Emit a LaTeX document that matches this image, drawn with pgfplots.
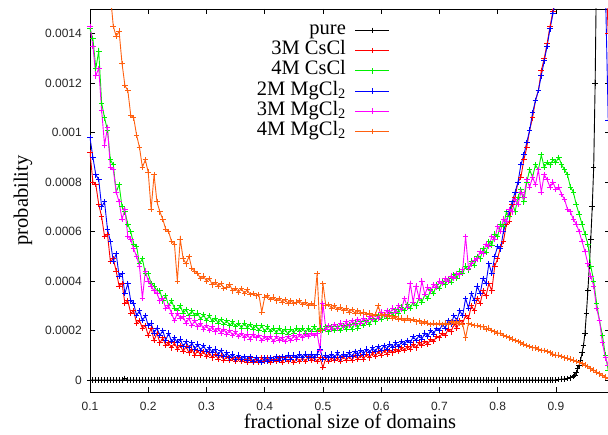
\documentclass[border=0pt]{standalone}
\usepackage{fontspec}
\setmainfont{Liberation Serif}
\newfontfamily\ticksf{Liberation Sans}
\usepackage{pgfplots}
\usepackage{pgfplotstable}
\pgfplotsset{compat=1.18}
\definecolor{cred}{RGB}{255,0,0}
\definecolor{cgreen}{RGB}{0,240,0}
\definecolor{cblue}{RGB}{0,0,255}
\definecolor{cmag}{RGB}{255,0,255}
\definecolor{corange}{RGB}{255,96,16}

% columns: x, 3M CsCl (red), 4M CsCl (green), 2M MgCl2 (blue), 3M MgCl2 (magenta), 4M MgCl2 (orange)
\pgfplotstableread{
x r g b m o
0.100 9.2e-4 14.2e-4 9.8e-4 14.3e-4 25e-4
0.105 8.0e-4 13.8e-4 9.0e-4 13.5e-4 23.5e-4
0.110 7.9e-4 12.6e-4 8.3e-4 12.3e-4 22e-4
0.115 7.1e-4 13.3e-4 8.1e-4 12.6e-4 20.5e-4
0.120 6.6e-4 11.2e-4 7.0e-4 10.9e-4 19.5e-4
0.125 5.8e-4 10.6e-4 7.2e-4 9.5e-4 18e-4
0.130 5.9e-4 10.1e-4 6.1e-4 10.2e-4 17e-4
0.135 4.8e-4 8.9e-4 5.6e-4 8.6e-4 15.6e-4
0.140 4.9e-4 8.7e-4 4.8e-4 8.5e-4 14.3e-4
0.145 4.4e-4 7.6e-4 5.1e-4 7.6e-4 13.9e-4
0.150 3.8e-4 7.9e-4 4.2e-4 7.2e-4 14.1e-4
0.155 3.9e-4 7.0e-4 4.3e-4 6.5e-4 12.8e-4
0.160 3.1e-4 6.8e-4 3.5e-4 6.9e-4 11.9e-4
0.165 3.2e-4 6.3e-4 3.9e-4 5.8e-4 11.7e-4
0.170 2.7e-4 6.0e-4 3.2e-4 5.7e-4 10.7e-4
0.175 2.8e-4 5.5e-4 3.1e-4 5.3e-4 10.6e-4
0.180 2.3e-4 5.4e-4 2.6e-4 5.0e-4 9.9e-4
0.185 2.4e-4 4.7e-4 2.8e-4 4.6e-4 9.4e-4
0.190 2.1e-4 4.9e-4 2.4e-4 3.3e-4 8.6e-4
0.195 2.2e-4 4.3e-4 2.6e-4 4.4e-4 8.9e-4
0.200 1.8e-4 4.3e-4 2.2e-4 4.0e-4 8.4e-4
0.205 2.1e-4 3.9e-4 2.3e-4 3.8e-4 6.9e-4
0.210 1.6e-4 3.8e-4 1.9e-4 3.6e-4 8.3e-4
0.215 1.9e-4 3.6e-4 2.1e-4 3.5e-4 7.2e-4
0.220 1.5e-4 3.6e-4 1.8e-4 3.2e-4 6.8e-4
0.225 1.7e-4 3.2e-4 2.0e-4 3.3e-4 6.5e-4
0.230 1.4e-4 3.4e-4 1.6e-4 2.9e-4 6.1e-4
0.235 1.5e-4 3.0e-4 1.9e-4 3.0e-4 6.0e-4
0.240 1.3e-4 3.2e-4 1.55e-4 2.7e-4 5.6e-4
0.245 1.5e-4 2.9e-4 1.7e-4 2.4e-4 5.5e-4
0.250 1.25e-4 2.8e-4 1.5e-4 2.7e-4 4.0e-4
0.255 1.4e-4 3.0e-4 1.65e-4 2.5e-4 5.7e-4
0.260 1.15e-4 2.7e-4 1.35e-4 2.55e-4 4.9e-4
0.265 1.35e-4 2.85e-4 1.55e-4 2.3e-4 4.7e-4
0.270 1.1e-4 2.6e-4 1.3e-4 2.5e-4 5.0e-4
0.275 1.25e-4 2.8e-4 1.5e-4 2.2e-4 4.5e-4
0.280 1.0e-4 2.6e-4 1.25e-4 2.4e-4 4.4e-4
0.285 1.2e-4 2.7e-4 1.45e-4 2.15e-4 4.3e-4
0.290 1.0e-4 2.45e-4 1.2e-4 2.3e-4 4.1e-4
0.295 1.15e-4 2.65e-4 1.4e-4 2.05e-4 4.2e-4
0.300 0.95e-4 2.4e-4 1.15e-4 2.2e-4 4.0e-4
0.305 1.1e-4 2.6e-4 1.3e-4 2.0e-4 4.1e-4
0.310 0.9e-4 2.35e-4 1.1e-4 2.15e-4 3.85e-4
0.315 1.05e-4 2.5e-4 1.25e-4 1.95e-4 3.95e-4
0.320 0.85e-4 2.3e-4 1.0e-4 2.1e-4 3.8e-4
0.325 1.0e-4 2.45e-4 1.2e-4 1.9e-4 3.9e-4
0.330 0.8e-4 2.25e-4 0.95e-4 2.05e-4 3.7e-4
0.335 0.95e-4 2.4e-4 1.1e-4 1.85e-4 3.75e-4
0.340 0.8e-4 2.2e-4 0.9e-4 2.0e-4 3.85e-4
0.345 0.9e-4 2.35e-4 1.05e-4 1.8e-4 3.6e-4
0.350 0.75e-4 2.15e-4 0.85e-4 1.95e-4 3.7e-4
0.355 0.9e-4 2.3e-4 1.0e-4 1.75e-4 3.55e-4
0.360 0.75e-4 2.1e-4 0.85e-4 1.9e-4 3.7e-4
0.365 0.85e-4 2.3e-4 0.95e-4 1.7e-4 3.5e-4
0.370 0.7e-4 2.1e-4 0.8e-4 1.85e-4 3.65e-4
0.375 0.9e-4 2.25e-4 0.95e-4 1.65e-4 3.45e-4
0.380 0.7e-4 2.05e-4 0.75e-4 1.85e-4 3.5e-4
0.385 0.85e-4 2.2e-4 0.9e-4 1.7e-4 3.4e-4
0.390 0.7e-4 2.0e-4 0.8e-4 1.8e-4 3.45e-4
0.395 0.9e-4 2.2e-4 0.7e-4 1.6e-4 2.75e-4
0.400 0.75e-4 1.95e-4 0.9e-4 1.75e-4 3.35e-4
0.405 0.9e-4 2.15e-4 0.75e-4 1.65e-4 3.4e-4
0.410 0.7e-4 1.95e-4 0.9e-4 1.75e-4 3.25e-4
0.415 0.85e-4 2.1e-4 0.8e-4 1.55e-4 3.35e-4
0.420 0.75e-4 1.9e-4 0.95e-4 1.75e-4 3.2e-4
0.425 0.9e-4 2.1e-4 0.8e-4 1.6e-4 3.3e-4
0.430 0.7e-4 1.9e-4 0.95e-4 1.7e-4 3.15e-4
0.435 0.9e-4 2.05e-4 0.85e-4 1.55e-4 3.25e-4
0.440 0.75e-4 1.85e-4 1.0e-4 1.75e-4 3.1e-4
0.445 0.9e-4 2.05e-4 0.85e-4 1.6e-4 3.2e-4
0.450 0.7e-4 1.9e-4 1.0e-4 1.8e-4 3.1e-4
0.455 0.9e-4 2.1e-4 0.9e-4 1.65e-4 3.15e-4
0.460 0.75e-4 1.95e-4 1.05e-4 1.85e-4 3.2e-4
0.465 0.9e-4 2.1e-4 0.9e-4 1.7e-4 3.05e-4
0.470 0.75e-4 1.9e-4 1.05e-4 1.85e-4 3.15e-4
0.475 0.95e-4 2.1e-4 0.9e-4 1.75e-4 3.0e-4
0.480 0.8e-4 1.95e-4 1.05e-4 1.9e-4 3.1e-4
0.485 0.9e-4 2.15e-4 0.9e-4 1.8e-4 3.0e-4
0.490 0.75e-4 1.95e-4 1.05e-4 1.9e-4 4.3e-4
0.495 0.9e-4 2.1e-4 1.25e-4 1.2e-4 2.0e-4
0.500 0.5e-4 2.0e-4 0.85e-4 3.1e-4 3.9e-4
0.505 0.9e-4 2.15e-4 1.0e-4 2.05e-4 3.0e-4
0.510 0.75e-4 1.95e-4 0.9e-4 2.2e-4 3.05e-4
0.515 0.9e-4 2.15e-4 1.05e-4 2.05e-4 2.9e-4
0.520 0.8e-4 2.0e-4 0.9e-4 2.25e-4 3.0e-4
0.525 0.9e-4 2.15e-4 1.1e-4 2.1e-4 2.85e-4
0.530 0.75e-4 2.0e-4 0.9e-4 2.3e-4 2.95e-4
0.535 0.95e-4 2.2e-4 1.05e-4 2.15e-4 2.8e-4
0.540 0.8e-4 2.05e-4 0.95e-4 2.35e-4 2.9e-4
0.545 0.95e-4 2.25e-4 1.1e-4 2.2e-4 2.75e-4
0.550 0.8e-4 2.05e-4 0.95e-4 2.4e-4 2.85e-4
0.555 1.0e-4 2.3e-4 1.15e-4 2.25e-4 2.7e-4
0.560 0.85e-4 2.1e-4 1.0e-4 2.45e-4 2.8e-4
0.565 1.0e-4 2.35e-4 1.2e-4 2.3e-4 2.7e-4
0.570 0.85e-4 2.2e-4 1.05e-4 2.5e-4 2.75e-4
0.575 1.05e-4 2.4e-4 1.25e-4 2.35e-4 2.65e-4
0.580 0.9e-4 2.25e-4 1.1e-4 2.55e-4 2.7e-4
0.585 1.1e-4 2.5e-4 1.3e-4 2.45e-4 2.6e-4
0.590 0.95e-4 2.35e-4 1.15e-4 2.65e-4 2.65e-4
0.595 1.15e-4 2.6e-4 1.35e-4 2.5e-4 3.0e-4
0.600 1.0e-4 2.45e-4 1.2e-4 2.75e-4 2.6e-4
0.605 1.2e-4 2.65e-4 1.4e-4 2.6e-4 2.65e-4
0.610 1.05e-4 2.5e-4 1.25e-4 2.8e-4 2.55e-4
0.615 1.2e-4 2.75e-4 1.45e-4 2.7e-4 2.6e-4
0.620 1.1e-4 2.6e-4 1.3e-4 2.9e-4 2.5e-4
0.625 1.25e-4 2.85e-4 1.5e-4 2.75e-4 2.55e-4
0.630 1.15e-4 2.7e-4 1.35e-4 3.0e-4 2.45e-4
0.635 1.3e-4 2.95e-4 1.55e-4 2.85e-4 2.5e-4
0.640 1.2e-4 2.8e-4 1.45e-4 3.3e-4 2.4e-4
0.645 1.35e-4 3.05e-4 1.6e-4 2.95e-4 2.5e-4
0.650 1.25e-4 2.9e-4 1.5e-4 3.9e-4 2.4e-4
0.655 1.45e-4 3.15e-4 1.75e-4 3.15e-4 2.45e-4
0.660 1.3e-4 3.0e-4 1.6e-4 3.8e-4 2.35e-4
0.665 1.5e-4 3.3e-4 1.8e-4 3.3e-4 2.4e-4
0.670 1.4e-4 3.15e-4 1.65e-4 4.0e-4 2.3e-4
0.675 1.55e-4 3.45e-4 1.9e-4 3.45e-4 2.35e-4
0.680 1.45e-4 3.3e-4 1.75e-4 3.75e-4 2.3e-4
0.685 1.65e-4 3.65e-4 2.0e-4 3.6e-4 2.25e-4
0.690 1.55e-4 3.5e-4 1.85e-4 3.85e-4 2.3e-4
0.695 1.75e-4 3.85e-4 2.1e-4 3.75e-4 2.25e-4
0.700 1.7e-4 3.7e-4 2.0e-4 4.0e-4 2.3e-4
0.705 1.9e-4 4.0e-4 2.25e-4 3.9e-4 2.25e-4
0.710 1.8e-4 3.85e-4 2.1e-4 4.1e-4 2.3e-4
0.715 2.05e-4 4.1e-4 2.4e-4 4.0e-4 2.25e-4
0.720 1.95e-4 3.95e-4 2.25e-4 4.2e-4 2.35e-4
0.725 2.25e-4 4.25e-4 2.6e-4 4.1e-4 2.3e-4
0.730 2.1e-4 4.1e-4 2.4e-4 4.3e-4 2.35e-4
0.735 2.4e-4 4.4e-4 2.8e-4 4.25e-4 2.3e-4
0.740 2.3e-4 4.3e-4 2.6e-4 4.45e-4 2.25e-4
0.745 2.6e-4 4.6e-4 3.3e-4 5.8e-4 1.7e-4
0.750 2.5e-4 4.45e-4 2.9e-4 4.5e-4 2.3e-4
0.755 3.0e-4 4.8e-4 3.5e-4 4.7e-4 2.25e-4
0.760 2.8e-4 4.65e-4 3.2e-4 4.85e-4 2.2e-4
0.765 3.3e-4 5.0e-4 3.8e-4 4.9e-4 2.2e-4
0.770 3.1e-4 4.9e-4 3.5e-4 5.2e-4 2.15e-4
0.775 3.6e-4 5.3e-4 4.1e-4 5.1e-4 2.15e-4
0.780 3.4e-4 5.15e-4 3.9e-4 5.5e-4 2.05e-4
0.785 3.9e-4 5.6e-4 4.7e-4 5.4e-4 2.1e-4
0.790 3.6e-4 5.45e-4 4.3e-4 5.8e-4 2.0e-4
0.795 4.6e-4 5.9e-4 5.0e-4 5.7e-4 1.95e-4
0.800 4.9e-4 5.8e-4 5.4e-4 6.2e-4 1.9e-4
0.805 5.4e-4 6.3e-4 5.3e-4 6.0e-4 1.9e-4
0.810 5.6e-4 6.2e-4 6.0e-4 6.5e-4 1.8e-4
0.815 6.3e-4 6.8e-4 6.4e-4 6.4e-4 1.75e-4
0.820 6.4e-4 6.6e-4 6.8e-4 6.9e-4 1.7e-4
0.825 7.1e-4 7.2e-4 7.2e-4 6.8e-4 1.65e-4
0.830 7.4e-4 6.8e-4 7.6e-4 7.3e-4 1.6e-4
0.835 8.0e-4 7.4e-4 8.0e-4 7.1e-4 1.55e-4
0.840 8.2e-4 7.7e-4 8.7e-4 7.6e-4 1.5e-4
0.845 8.9e-4 7.2e-4 9.1e-4 7.4e-4 1.45e-4
0.850 9.4e-4 8.0e-4 9.6e-4 8.1e-4 1.4e-4
0.855 10.1e-4 8.5e-4 10.1e-4 7.8e-4 1.35e-4
0.860 10.6e-4 8.2e-4 10.8e-4 8.2e-4 1.3e-4
0.865 11.3e-4 8.7e-4 11.3e-4 7.9e-4 1.3e-4
0.870 11.7e-4 8.5e-4 11.7e-4 8.5e-4 1.25e-4
0.875 12.5e-4 9.1e-4 12.3e-4 7.6e-4 1.2e-4
0.880 13.0e-4 8.6e-4 12.9e-4 8.3e-4 1.2e-4
0.885 13.6e-4 8.8e-4 13.5e-4 8.1e-4 1.15e-4
0.890 14.3e-4 8.7e-4 14.2e-4 7.8e-4 1.1e-4
0.895 14.9e-4 8.9e-4 14.8e-4 8.0e-4 1.05e-4
0.900 15.6e-4 8.8e-4 15.5e-4 7.7e-4 1.0e-4
0.905 16.3e-4 9.0e-4 16.2e-4 7.8e-4 1.0e-4
0.910 17.0e-4 8.7e-4 16.9e-4 7.5e-4 0.95e-4
0.915 17.8e-4 8.5e-4 17.6e-4 7.3e-4 0.9e-4
0.920 18.5e-4 8.3e-4 18.3e-4 6.9e-4 0.88e-4
0.925 19.2e-4 7.8e-4 19.0e-4 6.8e-4 0.85e-4
0.930 20.0e-4 7.6e-4 19.8e-4 6.5e-4 0.8e-4
0.935 20.5e-4 7.1e-4 20.3e-4 6.3e-4 0.75e-4
0.940 21e-4 6.7e-4 21e-4 6.0e-4 0.7e-4
0.945 21e-4 6.3e-4 21e-4 5.6e-4 0.65e-4
0.950 21e-4 5.9e-4 21e-4 5.2e-4 0.6e-4
0.955 21e-4 5.5e-4 21e-4 4.7e-4 0.55e-4
0.960 21e-4 4.6e-4 21e-4 4.2e-4 0.45e-4
0.965 21e-4 4.0e-4 21e-4 3.8e-4 0.4e-4
0.970 21e-4 3.1e-4 21e-4 2.9e-4 0.32e-4
0.975 20e-4 2.4e-4 20e-4 2.4e-4 0.25e-4
0.980 19e-4 1.8e-4 19e-4 1.5e-4 0.18e-4
0.985 17e-4 1.0e-4 16e-4 0.9e-4 0.12e-4
0.990 14e-4 0.4e-4 10.5e-4 0.6e-4 0.08e-4
}\datatab

\begin{document}
\begin{tikzpicture}
\begin{axis}[
  scale only axis, width=520pt, height=383pt,
  xmin=0.1, xmax=0.993, ymin=-0.0000486, ymax=0.0015,
  axis line style={black, line width=0.8pt},
  tick align=inside, major tick length=5pt,
  xtick pos=both, ytick pos=both,
  xticklabel pos=left, yticklabel pos=left,
  tick style={black, line width=0.6pt},
  xtick={0.1,0.2,0.3,0.4,0.5,0.6,0.7,0.8,0.9},
  xticklabels={0.1,0.2,0.3,0.4,0.5,0.6,0.7,0.8,0.9},
  ytick={0,0.0002,0.0004,0.0006,0.0008,0.001,0.0012,0.0014},
  yticklabels={0,0.0002,0.0004,0.0006,0.0008,0.001,0.0012,0.0014},
  /pgf/number format/assume math mode=true,
  ticklabel style={font=\ticksf\fontsize{12}{12}\selectfont, text=black!85},
  xticklabel style={anchor=center, inner sep=0pt, yshift=-14pt},
  yticklabel style={anchor=east, inner sep=0pt, xshift=-8pt},
  xlabel={fractional size of domains},
  ylabel={probability},
  label style={font=\fontsize{20.5}{20.5}\selectfont},
  xlabel style={at={(axis description cs:0.5,-0.0757)}, anchor=center},
  ylabel style={at={(axis description cs:-0.129,0.5)}, anchor=center},
  legend plot pos=right,
  legend cell align=right,
  legend image code/.code={\draw[mark repeat=2,mark phase=2,#1] plot coordinates {(0pt,0pt) (17pt,0pt) (34pt,0pt)};},
  legend style={draw=none, fill=none, at={(axis description cs:0.5827,0.976)}, anchor=north east,
    font=\fontsize{20.5}{20.5}\selectfont, row sep=0pt, column sep=9pt,
    nodes={inner sep=0pt, text height=14.2pt, text depth=6pt}},
  every axis plot/.append style={line width=0.9pt, mark=+, mark size=2.8pt, mark options={solid}},
  clip=true,
]
\addplot[black] coordinates {
(0.100,0) (0.105,0) (0.110,0) (0.115,0) (0.120,0) (0.125,0) (0.130,0) (0.135,0) (0.140,0) (0.145,0)
(0.150,0) (0.155,0) (0.160,0.000006) (0.165,0) (0.170,0) (0.175,0) (0.180,0) (0.185,0) (0.190,0) (0.195,0)
(0.200,0) (0.205,0) (0.210,0) (0.215,0) (0.220,0) (0.225,0) (0.230,0) (0.235,0) (0.240,0) (0.245,0)
(0.250,0) (0.255,0) (0.260,0) (0.265,0) (0.270,0) (0.275,0) (0.280,0) (0.285,0) (0.290,0) (0.295,0)
(0.300,0) (0.305,0) (0.310,0) (0.315,0) (0.320,0) (0.325,0) (0.330,0) (0.335,0) (0.340,0) (0.345,0)
(0.350,0) (0.355,0) (0.360,0) (0.365,0) (0.370,0) (0.375,0) (0.380,0) (0.385,0) (0.390,0) (0.395,0)
(0.400,0) (0.405,0) (0.410,0) (0.415,0) (0.420,0) (0.425,0) (0.430,0) (0.435,0) (0.440,0) (0.445,0)
(0.450,0) (0.455,0) (0.460,0) (0.465,0) (0.470,0) (0.475,0) (0.480,0) (0.485,0) (0.490,0) (0.495,0)
(0.500,0) (0.505,0) (0.510,0) (0.515,0) (0.520,0) (0.525,0) (0.530,0) (0.535,0) (0.540,0) (0.545,0)
(0.550,0) (0.555,0) (0.560,0) (0.565,0) (0.570,0) (0.575,0) (0.580,0) (0.585,0) (0.590,0) (0.595,0)
(0.600,0) (0.605,0) (0.610,0) (0.615,0) (0.620,0) (0.625,0) (0.630,0) (0.635,0) (0.640,0) (0.645,0)
(0.650,0) (0.655,0) (0.660,0) (0.665,0) (0.670,0) (0.675,0) (0.680,0) (0.685,0) (0.690,0) (0.695,0)
(0.700,0) (0.705,0) (0.710,0) (0.715,0) (0.720,0) (0.725,0) (0.730,0) (0.735,0) (0.740,0) (0.745,0)
(0.750,0) (0.755,0) (0.760,0) (0.765,0) (0.770,0) (0.775,0) (0.780,0) (0.785,0) (0.790,0) (0.795,0)
(0.800,0) (0.805,0) (0.810,0) (0.815,0) (0.820,0) (0.825,0) (0.830,0) (0.835,0) (0.840,0) (0.845,0)
(0.850,0) (0.855,0) (0.860,0) (0.865,0) (0.870,0) (0.875,0) (0.880,0) (0.885,0) (0.890,0) (0.895,0)
(0.900,0) (0.905,0.000002) (0.910,0.000003) (0.915,0.000004) (0.920,0.000006) (0.925,0.000009)
(0.930,0.000014) (0.9325,0.00002) (0.935,0.00003) (0.9375,0.000045) (0.940,0.00006) (0.9425,0.00008)
(0.945,0.00011) (0.9475,0.00014) (0.950,0.00019) (0.9525,0.00027) (0.955,0.00036) (0.9575,0.00046)
(0.960,0.00057) (0.9625,0.0007) (0.965,0.00086) (0.9675,0.0012) (0.970,0.0017) (0.9725,0.0025)
(0.975,0.0035)
};
\addlegendentry{pure}
\addplot[cred] table[x=x, y=r] {\datatab};
\addlegendentry{3M CsCl}
\addplot[cgreen] table[x=x, y=g] {\datatab};
\addlegendentry{4M CsCl}
\addplot[cblue] table[x=x, y=b] {\datatab};
\addlegendentry{2M MgCl\textsubscript{2}}
\addplot[cmag] table[x=x, y=m] {\datatab};
\addlegendentry{3M MgCl\textsubscript{2}}
\addplot[corange] table[x=x, y=o] {\datatab};
\addlegendentry{4M MgCl\textsubscript{2}}
\end{axis}
\pgfresetboundingbox
\path (-90pt,-42pt) rectangle (518pt,392pt);
\end{tikzpicture}
\end{document}
